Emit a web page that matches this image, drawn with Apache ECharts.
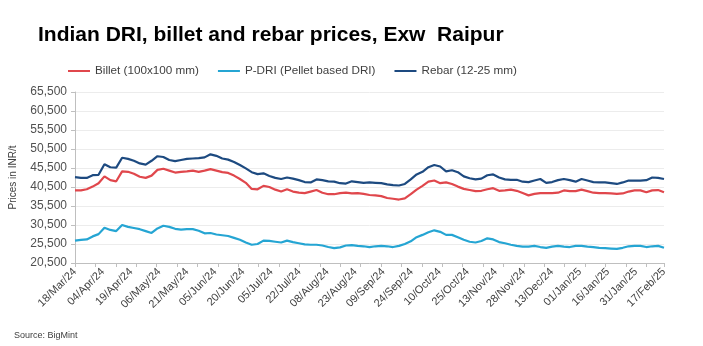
<!DOCTYPE html>
<html>
<head>
<meta charset="utf-8">
<script src="https://cdn.jsdelivr.net/npm/echarts@6/dist/echarts.min.js"></script>
<style>
html,body{margin:0;padding:0;background:#fff;}
#chart{width:703px;height:346px;}
</style>
</head>
<body>
<div id="chart"></div>
<script>
// Tick labels on the date axis
var tickLabels = ['18/Mar/24','04/Apr/24','19/Apr/24','06/May/24','21/May/24','05/Jun/24','20/Jun/24','05/Jul/24','22/Jul/24','08/Aug/24','23/Aug/24','09/Sep/24','24/Sep/24','10/Oct/24','25/Oct/24','13/Nov/24','28/Nov/24','13/Dec/24','01/Jan/25','16/Jan/25','31/Jan/25','17/Feb/25'];

// Values sampled evenly across the whole period (101 samples)
var billet = [39600,39600,39900,40600,41500,43300,42300,42000,44600,44500,
44000,43200,42900,43500,45000,45300,44800,44300,44500,44600,
44800,44500,44800,45200,44800,44400,44200,43500,42600,41600,
40000,39900,40800,40500,39800,39300,39900,39300,39000,38900,
39300,39700,39000,38600,38600,38900,39000,38800,38900,38700,
38400,38300,38100,37600,37400,37200,37500,38600,39800,40800,
41900,42200,41500,41700,41300,40600,40000,39700,39400,39500,
39900,40200,39500,39600,39800,39500,38900,38300,38700,38900,
38900,38900,39000,39600,39400,39400,39800,39400,39000,38900,
38900,38800,38700,38800,39300,39600,39600,39100,39600,39700,
39100];

var pdri = [26400,26600,26700,27500,28100,29800,29200,28900,30500,30000,
29700,29400,28900,28400,29600,30300,30000,29500,29300,29400,
29400,29000,28300,28400,28000,27800,27600,27100,26600,25900,
25300,25500,26400,26300,26100,25900,26400,26000,25700,25400,
25300,25300,25100,24700,24400,24600,25100,25200,25000,24900,
24700,24900,25000,24900,24700,25000,25500,26200,27300,27900,
28600,29100,28700,27900,27900,27300,26600,26100,25900,26300,
27000,26700,26000,25700,25300,25000,24800,24800,25000,24700,
24500,24800,25000,24800,24700,25000,25000,24800,24700,24500,
24400,24300,24200,24500,24900,25000,25000,24700,24900,25000,
24500];

var rebar = [43100,42900,42900,43600,43700,46500,45700,45600,48200,47900,
47400,46700,46400,47400,48600,48400,47600,47300,47600,47900,
48000,48100,48300,49100,48700,48000,47700,47100,46300,45400,
44400,43900,44100,43400,42900,42600,43000,42700,42300,41800,
41700,42500,42300,42000,41900,41500,41400,42000,41800,41600,
41700,41600,41500,41200,41000,40900,41300,42500,43800,44500,
45700,46300,45900,44600,44900,44400,43300,42800,42500,42700,
43600,43800,43000,42500,42400,42400,41900,41800,42200,42600,
41600,41800,42300,42600,42300,41900,42600,42200,41800,41700,
41700,41500,41300,41700,42200,42200,42200,42300,43000,42900,
42600];

var seriesNames = ['Billet (100x100 mm)','P-DRI (Pellet based DRI)','Rebar (12-25 mm)'];
var yTicks = {min:20500, max:65500, step:5000};

var DAYS_PER_LABEL = 11;
var DAYS_PER_TICK = 8;
var xMax = (tickLabels.length - 1) * DAYS_PER_LABEL;

function toPairs(arr){
  var step = xMax / (arr.length - 1);
  return arr.map(function(v,i){ return [i*step, v]; });
}

var FONT = '"Liberation Sans", Arial, sans-serif';
var chart = echarts.init(document.getElementById('chart'), null, {renderer:'canvas'});
chart.setOption({
  animation:false,
  backgroundColor:'#ffffff',
  title:{
    text:'Indian DRI, billet and rebar prices, Exw  Raipur',
    left:33, top:20, padding:[5,5,5,5],
    textStyle:{fontFamily:FONT, fontWeight:'bold', fontSize:21, color:'#000'}
  },
  legend:{
    left:68, top:65, padding:0,
    icon:'rect', itemWidth:22, itemHeight:2, itemGap:19,
    textStyle:{fontFamily:FONT, fontSize:11.7, color:'#404040'},
    data:seriesNames
  },
  grid:{left:73, right:39, top:92, bottom:83, containLabel:false},
  xAxis:[{
    type:'value', min:0, max:xMax, interval:DAYS_PER_LABEL,
    axisLine:{show:true, lineStyle:{color:'#bfbfbf', width:1}},
    axisTick:{show:false},
    splitLine:{show:false},
    axisLabel:{
      rotate:45, margin:7, color:'#404040', fontFamily:FONT, fontSize:11,
      showMinLabel:true, showMaxLabel:true,
      formatter:function(v){ var k=Math.round(v/DAYS_PER_LABEL); return tickLabels[k]||''; }
    }
  },{
    type:'value', min:0, max:xMax, interval:DAYS_PER_TICK, position:'bottom',
    axisLine:{show:false},
    axisTick:{show:true, length:4, lineStyle:{color:'#bfbfbf'}},
    axisLabel:{show:false},
    splitLine:{show:false}
  }],
  yAxis:{
    type:'value', min:yTicks.min, max:yTicks.max, interval:yTicks.step,
    name:'Prices in INR/t', nameLocation:'middle', nameGap:57, nameRotate:90,
    nameTextStyle:{fontFamily:FONT, fontSize:10, color:'#404040'},
    axisLine:{show:true, lineStyle:{color:'#bfbfbf'}},
    axisTick:{show:true, length:4, lineStyle:{color:'#bfbfbf'}},
    splitLine:{show:true, lineStyle:{color:'#ececec', width:1}},
    axisLabel:{margin:8, color:'#505050', fontFamily:FONT, fontSize:12,
      formatter:function(v){ return v.toLocaleString('en-US'); }}
  },
  series:[
    {name:seriesNames[0], type:'line', data:toPairs(billet), showSymbol:false, xAxisIndex:0,
     lineStyle:{width:2.2, color:'#e0474c'}, itemStyle:{color:'#e0474c'}},
    {name:seriesNames[1], type:'line', data:toPairs(pdri), showSymbol:false, xAxisIndex:0,
     lineStyle:{width:2.2, color:'#25a5d3'}, itemStyle:{color:'#25a5d3'}},
    {name:seriesNames[2], type:'line', data:toPairs(rebar), showSymbol:false, xAxisIndex:0,
     lineStyle:{width:2.2, color:'#1d4a80'}, itemStyle:{color:'#1d4a80'}}
  ],
  graphic:[{
    type:'text', left:14, top:331,
    style:{text:'Source: BigMint', fontFamily:FONT, fontSize:9, fill:'#404040'}
  }]
});
</script>
</body>
</html>
